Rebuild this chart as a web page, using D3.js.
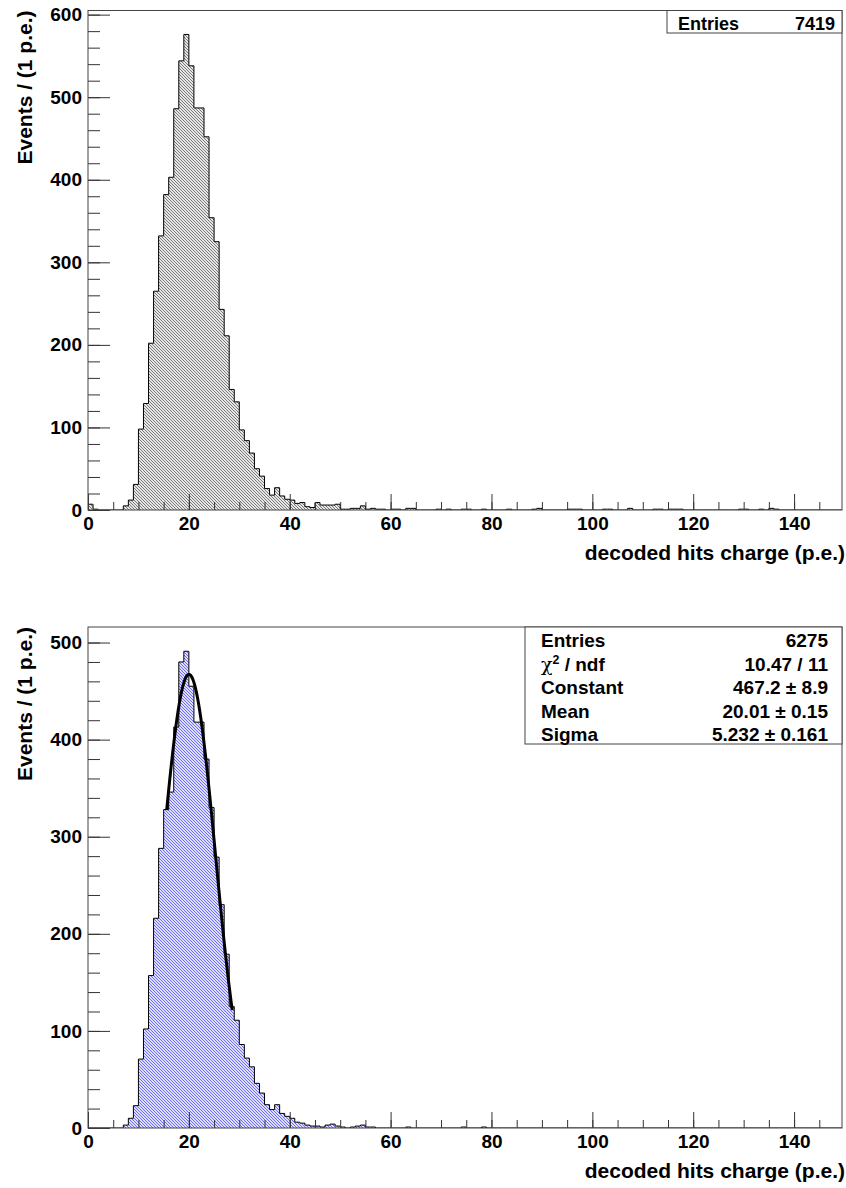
<!DOCTYPE html>
<html><head><meta charset="utf-8">
<script src="https://cdn.jsdelivr.net/npm/d3@7"></script>
<style>
body{margin:0;background:#fff}
svg{display:block}
text{font-family:"Liberation Sans",Arial,Helvetica,sans-serif;font-weight:bold;fill:#000}
</style>
</head><body>
<svg id="c" width="846" height="1188"></svg>
<script>
// ---- data (1 p.e. bins, bin i covers [i, i+1)) ----
const xDomain = [0, 149.5];
const xTicksMajor = [0, 20, 40, 60, 80, 100, 120, 140];
const xTitle = "decoded hits charge (p.e.)";
const yTitle = "Events / (1 p.e.)";

const topCounts = [
  7,1,0,0,0,0,0,5,12,31,
  98,129,202,265,332,382,403,486,544,576,
  538,487,487,452,354,325,243,211,146,131,
  97,84,69,50,41,26,18,27,17,13,
  12,8,9,4,3,9,6,6,6,7,
  1,1,2,2,5,1,2,1,1,0,
  1,1,0,2,2,0,0,0,0,1,
  0,1,0,0,1,1,0,0,1,0,
  0,0,0,1,0,0,0,0,1,2,
  0,0,0,0,0,1,1,1,0,0,
  0,0,1,1,0,0,0,2,0,0,
  0,0,1,1,0,1,1,1,0,0,
  0,0,0,0,0,0,0,0,0,1,
  1,0,0,1,0,2,1,0,0,0,
  0,0,0,0,0,0,0,0,0,0
];
const topYTicks = [0, 100, 200, 300, 400, 500, 600];
const topYMax = 605;
const topStatsLabels = ["Entries"];
const topStatsValues = ["7419"];

const botCounts = [
  0,0,0,0,0,0,0,3,10,23,
  71,102,157,216,288,328,346,413,480,491,
  455,418,418,380,330,279,230,179,125,111,
  86,72,63,46,36,24,19,24,15,12,
  10,6,5,3,2,2,1,3,4,2,
  1,0,1,2,3,1,1,0,0,0,
  0,0,0,1,0,0,0,0,0,0,
  0,0,0,0,1,0,0,0,1,0,
  0,0,0,0,0,0,0,0,0,0,
  0,0,0,0,0,0,0,0,0,0,
  0,0,0,0,0,0,0,0,0,0,
  0,0,0,0,0,0,0,0,0,0,
  0,0,0,0,0,0,0,0,0,0,
  0,0,0,0,0,0,0,0,0,0,
  0,0,0,0,0,0,0,0,0,0
];
const botYTicks = [0, 100, 200, 300, 400, 500];
const botYMax = 516;
const botStatsLabels = ["Entries", "chi2", "Constant", "Mean", "Sigma"];
const botStatsValues = ["6275", "10.47 / 11", "467.2 \u00b1 8.9", "20.01 \u00b1 0.15", "5.232 \u00b1 0.161"];
// Gaussian fit parameters as printed in the stats box, and the fitted range
const fitConstant = 467.2, fitMean = 20.01, fitSigma = 5.232;
const fitRange = [15.6, 28.6];

// ---- drawing ----
const svg = d3.select("#c");
const defs = svg.append("defs");

function makePattern(id, bg, fg) {
  const p = defs.append("pattern").attr("id", id)
    .attr("patternUnits", "userSpaceOnUse").attr("width", 3).attr("height", 3);
  p.append("rect").attr("width", 3).attr("height", 3).attr("fill", bg);
  [[0,0],[1,1],[2,2]].forEach(([a,b]) =>
    p.append("rect").attr("x", a).attr("y", b).attr("width", 1).attr("height", 1).attr("fill", fg));
}
makePattern("hatchGray", "#e6e6e6", "#7a7a7a");
makePattern("hatchBlue", "#dedeff", "#6c6cf4");

function panel(cfg) {
  const {left, right, top, bottom} = cfg;
  const g = svg.append("g");
  const x = d3.scaleLinear().domain(xDomain).range([left, right]);
  const y = d3.scaleLinear().domain([0, cfg.yMax]).range([bottom, top]);

  const bins = cfg.counts.map((c, i) => ({x0: i, v: c}));
  const pts = bins.concat([{x0: cfg.counts.length, v: 0}]);
  const area = d3.area().curve(d3.curveStepAfter)
    .x(d => x(Math.min(d.x0, xDomain[1]))).y0(y(0)).y1(d => y(d.v));
  const line = d3.line().curve(d3.curveStepAfter)
    .x(d => x(Math.min(d.x0, xDomain[1]))).y(d => y(d.v));

  const clipId = "clip" + cfg.id;
  defs.append("clipPath").attr("id", clipId).append("rect")
    .attr("x", left).attr("y", top).attr("width", right - left).attr("height", bottom - top);

  const hg = g.append("g").attr("clip-path", `url(#${clipId})`);
  hg.append("path").datum(pts).attr("d", area).attr("fill", `url(#${cfg.pattern})`);
  hg.append("path").datum(pts).attr("d", line).attr("fill", "none")
    .attr("stroke", "#000").attr("stroke-width", 1);

  if (cfg.fit) {
    const xs = d3.range(cfg.fit.range[0], cfg.fit.range[1] + 1e-9, 0.05);
    const gauss = t => cfg.fit.c * Math.exp(-0.5 * Math.pow((t - cfg.fit.m) / cfg.fit.s, 2));
    hg.append("path").datum(xs)
      .attr("d", d3.line().x(t => x(t)).y(t => y(gauss(t))))
      .attr("fill", "none").attr("stroke", "#000").attr("stroke-width", 3);
  }

  // axes
  const yMinor = d3.range(0, cfg.yMax + 0.1, 20);
  g.append("g").attr("transform", `translate(${left},0)`)
    .call(d3.axisLeft(y).tickValues(yMinor).tickSize(-12).tickFormat(""))
    .call(a => a.select(".domain").remove())
    .call(a => a.selectAll("line").attr("stroke", "#333"));
  g.append("g").attr("transform", `translate(${left},0)`)
    .call(d3.axisLeft(y).tickValues(cfg.yTicks).tickSize(-22).tickPadding(6).tickFormat(d3.format("d")))
    .call(a => a.select(".domain").remove())
    .call(a => a.selectAll("line").attr("stroke", "#333"))
    .call(a => a.selectAll("text").attr("font-size", 19).attr("font-family", null).attr("fill", "#000"));

  const xMinor = d3.range(0, 146, 5);
  g.append("g").attr("transform", `translate(0,${bottom})`)
    .call(d3.axisBottom(x).tickValues(xMinor).tickSize(-8).tickFormat(""))
    .call(a => a.select(".domain").remove())
    .call(a => a.selectAll("line").attr("stroke", "#333"));
  g.append("g").attr("transform", `translate(0,${bottom})`)
    .call(d3.axisBottom(x).tickValues(xTicksMajor).tickSize(-16).tickPadding(7).tickFormat(d3.format("d")))
    .call(a => a.select(".domain").remove())
    .call(a => a.selectAll("line").attr("stroke", "#333"))
    .call(a => a.selectAll("text").attr("font-size", 19).attr("font-family", null).attr("fill", "#000"));

  // frame
  g.append("rect").attr("x", left).attr("y", top).attr("width", right - left).attr("height", bottom - top)
    .attr("fill", "none").attr("stroke", "#444").attr("stroke-width", 1);

  // titles
  g.append("text").attr("x", right + 3).attr("y", bottom + 50).attr("text-anchor", "end")
    .attr("font-size", 21).text(xTitle);
  g.append("text").attr("transform", `translate(32,${top}) rotate(-90)`).attr("text-anchor", "end")
    .attr("font-size", 21).text(yTitle);

  // stats box
  const sb = cfg.stats;
  g.append("rect").attr("x", sb.left).attr("y", top).attr("width", right - sb.left).attr("height", sb.height)
    .attr("fill", "#fff").attr("stroke", "#444").attr("stroke-width", 1);
  cfg.statsLabels.forEach((lab, i) => {
    const ty = sb.firstBaseline + i * sb.step;
    const t = g.append("text").attr("x", sb.textLeft).attr("y", ty).attr("font-size", sb.fontSize);
    if (lab === "chi2") {
      t.append("tspan").attr("font-weight", "normal").attr("font-family", "DejaVu Serif, serif").text("\u03c7");
      t.append("tspan").attr("font-size", sb.fontSize * 0.65).attr("dy", -7).text("2");
      t.append("tspan").attr("dy", 7).text(" / ndf");
    } else {
      t.text(lab);
    }
    g.append("text").attr("x", sb.textRight).attr("y", ty).attr("text-anchor", "end")
      .attr("font-size", sb.fontSize).text(cfg.statsValues[i]);
  });
}

panel({
  id: "top", left: 88, right: 842, top: 10.5, bottom: 510,
  counts: topCounts, yMax: topYMax, yTicks: topYTicks, pattern: "hatchGray",
  statsLabels: topStatsLabels, statsValues: topStatsValues,
  stats: {left: 667, height: 22.5, textLeft: 678, textRight: 835, firstBaseline: 30, step: 24, fontSize: 18}
});
panel({
  id: "bot", left: 88, right: 842, top: 627, bottom: 1128,
  counts: botCounts, yMax: botYMax, yTicks: botYTicks, pattern: "hatchBlue",
  statsLabels: botStatsLabels, statsValues: botStatsValues,
  fit: {c: fitConstant, m: fitMean, s: fitSigma, range: fitRange},
  stats: {left: 525, height: 117, textLeft: 541, textRight: 828, firstBaseline: 647, step: 23.6, fontSize: 19}
});
</script>
</body></html>
